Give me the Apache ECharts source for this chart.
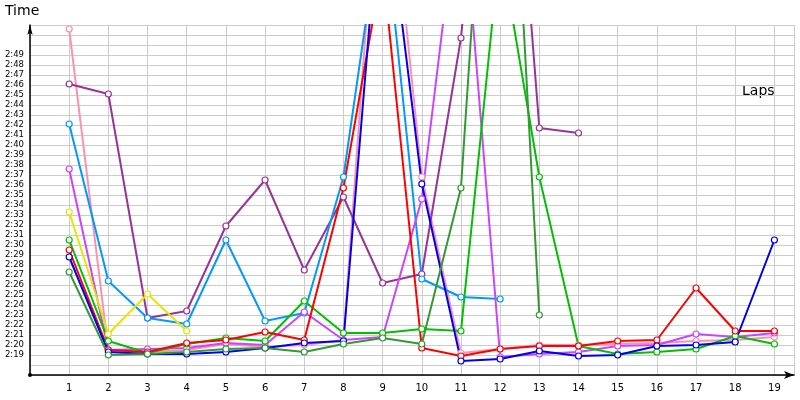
<!DOCTYPE html>
<html><head><meta charset="utf-8">
<script src="https://cdn.jsdelivr.net/npm/echarts@6/dist/echarts.min.js"></script>
<style>body{margin:0}#c{width:800px;height:400px}</style></head>
<body><div id="c"></div>
<script>
const laps = [1,2,3,4,5,6,7,8,9,10,11,12,13,14,15,16,17,18,19];
// lap times in seconds (values above the chart top are clipped)
const pink      = [171.6,139.5,139.3,139.5,140.1,139.8,140.0,140.5,195,156.8,139.2,139.6,140.0,140.0,140.1,140.2,140.4,140.5,140.8];
const red       = [149.5,139.5,139.3,140.2,140.5,141.3,140.5,155.7,178,139.7,138.9,139.6,139.9,139.9,140.4,140.5,145.7,141.4,141.4];
const blue      = [148.8,139.3,139.1,139.1,139.3,139.7,140.2,140.4,188,156.1,138.4,138.6,139.4,138.9,139.0,139.9,140.0,140.3,150.5];
const green     = [150.5,140.4,139.2,140.1,140.7,140.4,144.4,141.2,141.2,141.6,141.4,180,156.8,139.9,139.1,139.3,139.6,140.9,140.1];
const darkGreen = [147.3,139.0,139.1,139.3,139.6,139.7,139.3,140.1,140.7,140.1,155.7,215,143.0];
const purple    = [166.1,165.1,142.7,143.4,151.9,156.5,147.5,154.8,146.2,147.1,170.7,212,161.7,161.2];
const violet    = [157.6,139.5,139.6,139.7,140.2,140.0,143.3,140.5,140.8,154.6,187,138.8,139.1,139.3,139.9,140.0,141.1,140.8,141.2];
const lightBlue = [162.1,146.4,142.7,142.1,150.5,142.4,143.2,156.8,184,146.6,144.8,144.6];
const yellow    = [153.3,141.1,145.1,141.4];
const series = [
  ['pink',pink,'#ff8fb0'],['purple',purple,'#993399'],['lightBlue',lightBlue,'#0099ff'],
  ['violet',violet,'#cc44ff'],['yellow',yellow,'#e6e600'],['green',green,'#00c000'],
  ['red',red,'#ff0000'],['blue',blue,'#0000ee'],['darkGreen',darkGreen,'#339933']
];
const fmt = v => { const m=Math.floor(v/60), s=Math.round(v-m*60); return m+':'+(s<10?'0':'')+s; };
const chart = echarts.init(document.getElementById('c'));
chart.setOption({
  animation:false,
  grid:{left:30,right:6,top:25,bottom:25},
  xAxis:{type:'value',min:0,max:19.5,interval:1,
    axisLine:{lineStyle:{color:'#000',width:1.5},symbol:['none','arrow'],symbolSize:[6,10]},
    axisTick:{show:false},
    axisLabel:{color:'#000',fontFamily:'DejaVu Sans',fontSize:10,formatter:v=>(v>=1&&v<=19)?v:''},
    splitLine:{show:true,lineStyle:{color:'#cccccc'}}},
  yAxis:{type:'value',min:137,max:172,interval:1,
    axisLine:{show:true,lineStyle:{color:'#000',width:1.5},symbol:['circle','arrow'],symbolSize:[4,10]},
    axisTick:{show:false},
    axisLabel:{color:'#000',fontFamily:'DejaVu Sans',fontSize:8.5,margin:6,formatter:v=>(v>=139&&v<=169)?fmt(v):''},
    splitLine:{show:true,lineStyle:{color:'#cccccc'}}},
  graphic:[
    {type:'text',left:5,top:4,style:{text:'Time',fontFamily:'DejaVu Sans',fontSize:14,fill:'#000'}},
    {type:'text',left:742,top:84,style:{text:'Laps',fontFamily:'DejaVu Sans',fontSize:14,fill:'#000'}}
  ],
  series: series.map(([n,d,c])=>({name:n,type:'line',data:d.map((v,i)=>[laps[i],v]),
    symbol:'circle',symbolSize:6,clip:true,
    itemStyle:{color:'#fff',borderColor:c,borderWidth:1.2},
    lineStyle:{color:c,width:2}}))
});
</script></body></html>
